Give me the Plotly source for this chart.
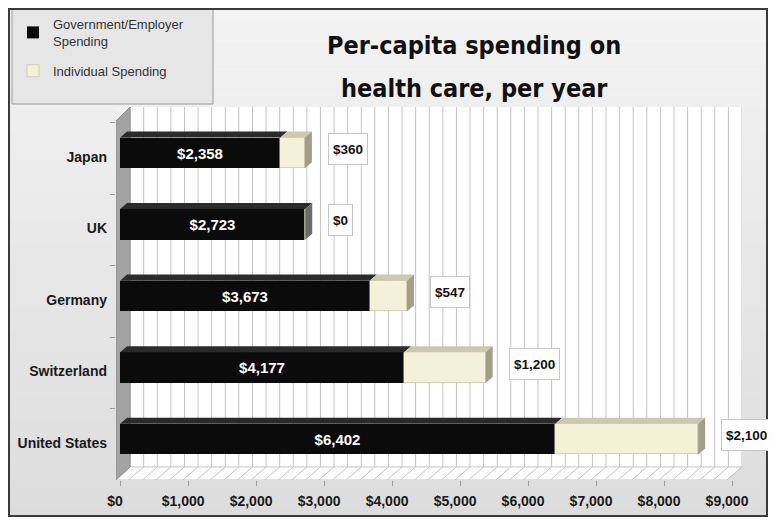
import plotly.graph_objects as go

# ---------------- data ----------------
countries = ["Japan", "UK", "Germany", "Switzerland", "United States"]
gov_spending = [2358, 2723, 3673, 4177, 6402]
ind_spending = [360, 0, 547, 1200, 2100]
x_tick_vals = [0, 1000, 2000, 3000, 4000, 5000, 6000, 7000, 8000, 9000]
x_tick_text = ["$0", "$1,000", "$2,000", "$3,000", "$4,000", "$5,000",
               "$6,000", "$7,000", "$8,000", "$9,000"]
title_lines = ["Per-capita spending on", "health care, per year"]
legend_names = ["Government/Employer<br>Spending", "Individual Spending"]

# ---------------- geometry / style ----------------
OFF = 8                      # page body margin the figure sits in
W_PX, H_PX = 776 - 2 * OFF, 525 - 2 * OFF
# plot area in page pixels: x 116..742, y 107..480
M_L = 116 - OFF
M_T = 107 - OFF
M_R = W_PX - (742 - OFF)
M_B = H_PX - (480 - OFF)
X_RANGE = [-60, 9147]
Y_RANGE = [4.573, -0.643]
BAR_W = 0.43
DDX = 103          # 3-D depth in $ units (~7px)
DDY = 0.084        # 3-D depth in category units (~6px)
BACK = 147         # back-plane offset ($)
FRONT = -74        # front-plane offset ($)
FLOOR_BACK = 4.39
FLOOR_FRONT = Y_RANGE[0]

FONT = "Liberation Sans, Arial, sans-serif"
NARROW = "DejaVu Sans Condensed, Liberation Sans Narrow, sans-serif"

pw = W_PX - M_L - M_R
ph = H_PX - M_T - M_B


def px_x(px):
    """page pixel x -> paper x"""
    return (px - OFF - M_L) / pw


def px_y(py):
    """page pixel y -> paper y"""
    return (H_PX - M_B - (py - OFF)) / ph


ypos = list(range(len(countries)))

fig = go.Figure()
fig.add_trace(go.Bar(
    y=ypos, x=gov_spending, orientation="h", width=BAR_W,
    name=legend_names[0], legendgroup="g1",
    marker=dict(color="#0b0b0b", line=dict(width=0)),
    text=[f"<b>${v:,}</b>" for v in gov_spending],
    textposition="inside", insidetextanchor="middle",
    textfont=dict(color="white", size=15, family=FONT),
    hoverinfo="skip",
))
fig.add_trace(go.Bar(
    y=ypos, x=ind_spending, orientation="h", width=BAR_W,
    name=legend_names[1], legendgroup="g2",
    marker=dict(color="#f4f1d9", line=dict(color="#bdb9a2", width=0.6)),
    hoverinfo="skip",
))

shapes = []

# background gradient bands (paper)
n_bands = 24
for k in range(n_bands):
    t = k / (n_bands - 1)
    c = int(220 + (243 - 220) * t)
    shapes.append(dict(type="rect", xref="paper", yref="paper", layer="below",
                       x0=px_x(0), x1=px_x(800),
                       y0=px_y(530 - 530 * k / n_bands),
                       y1=px_y(530 - 530 * (k + 1) / n_bands),
                       fillcolor=f"rgb({c},{c},{c})", line=dict(width=0)))

# legend box
shapes.append(dict(type="rect", xref="paper", yref="paper", layer="below",
                   x0=px_x(12), x1=px_x(213), y0=px_y(104), y1=px_y(9),
                   fillcolor="#e6e6e6", line=dict(color="#9a9a9a", width=1)))

# white back wall of the grid
shapes.append(dict(type="rect", xref="x", yref="y", layer="below",
                   x0=BACK, x1=9000 + BACK, y0=Y_RANGE[1], y1=FLOOR_BACK,
                   fillcolor="#ffffff", line=dict(width=0)))
# vertical gridlines (back plane)
for v in range(0, 9001, 200):
    shapes.append(dict(type="line", xref="x", yref="y", layer="below",
                       x0=v + BACK, x1=v + BACK, y0=Y_RANGE[1], y1=FLOOR_BACK,
                       line=dict(color="#c9c4c4", width=1)))
# floor
shapes.append(dict(type="path", xref="x", yref="y", layer="below",
                   path=f"M {FRONT},{FLOOR_FRONT} L {9000 + FRONT},{FLOOR_FRONT} "
                        f"L {9000 + BACK},{FLOOR_BACK} L {BACK},{FLOOR_BACK} Z",
                   fillcolor="#fdfdfd", line=dict(color="#c9c4c4", width=1)))
for v in range(0, 9001, 200):
    shapes.append(dict(type="line", xref="x", yref="y", layer="below",
                       x0=v + FRONT, x1=v + BACK, y0=FLOOR_FRONT, y1=FLOOR_BACK,
                       line=dict(color="#c9c4c4", width=1)))
# left wall
wall_top_front = Y_RANGE[1] + 14 / 71.5
shapes.append(dict(type="path", xref="x", yref="y", layer="below",
                   path=f"M {X_RANGE[0]},{FLOOR_FRONT} L {BACK},{FLOOR_BACK} "
                        f"L {BACK},{Y_RANGE[1]} L {X_RANGE[0]},{wall_top_front} Z",
                   fillcolor="#a3a3a3", line=dict(color="#8c8c8c", width=1)))

# 3-D top and side faces of bars
for i, (g, d) in enumerate(zip(gov_spending, ind_spending)):
    yt = i - BAR_W / 2
    yb = i + BAR_W / 2
    segs = [(0, g, "#2b2b2b")]
    if d > 0:
        segs.append((g, g + d, "#cdc9ae"))
    for x0, x1, col in segs:
        shapes.append(dict(type="path", xref="x", yref="y", layer="above",
                           path=f"M {x0},{yt} L {x0 + DDX},{yt - DDY} "
                                f"L {x1 + DDX},{yt - DDY} L {x1},{yt} Z",
                           fillcolor=col, line=dict(width=0)))
    xe = g + d
    side_col = "#a29e88" if d > 0 else "#6a6a6a"
    shapes.append(dict(type="path", xref="x", yref="y", layer="above",
                       path=f"M {xe},{yt} L {xe + DDX},{yt - DDY} "
                            f"L {xe + DDX},{yb - DDY} L {xe},{yb} Z",
                       fillcolor=side_col, line=dict(width=0)))

# outer frame
shapes.append(dict(type="rect", xref="paper", yref="paper", layer="above",
                   x0=px_x(9), x1=px_x(767), y0=px_y(516), y1=px_y(9),
                   fillcolor="rgba(0,0,0,0)", line=dict(color="#3a3a3a", width=2)))

annotations = []
for i, (g, d) in enumerate(zip(gov_spending, ind_spending)):
    annotations.append(dict(
        x=g + d, y=i, xref="x", yref="y", xanchor="left", yanchor="middle",
        xshift=23, yshift=4, showarrow=False, height=22, valign="middle",
        text=f"<b>${d:,}</b>",
        font=dict(size=13.5, color="#111111", family=FONT),
        bgcolor="white", bordercolor="#c6c6c6", borderwidth=1, borderpad=4,
    ))
for j, (line, py) in enumerate(zip(title_lines, [46, 89])):
    annotations.append(dict(
        x=px_x(474), y=px_y(py), xref="paper", yref="paper",
        xanchor="center", yanchor="middle", showarrow=False,
        text=f"<b>{line}</b>",
        font=dict(size=25, color="#111111", family=NARROW),
    ))

fig.update_layout(
    width=W_PX, height=H_PX,
    margin=dict(l=M_L, r=M_R, t=M_T, b=M_B, pad=0, autoexpand=False),
    barmode="stack", bargap=0,
    paper_bgcolor="#e4e4e4", plot_bgcolor="#ffffff",
    showlegend=True,
    legend=dict(x=px_x(13), y=px_y(9), xanchor="left", yanchor="top",
                xref="paper", yref="paper", traceorder="grouped",
                bgcolor="rgba(0,0,0,0)", borderwidth=0,
                font=dict(size=13, color="#333333", family=FONT),
                itemwidth=30, tracegroupgap=10),
    xaxis=dict(range=X_RANGE, tickvals=x_tick_vals, ticktext=x_tick_text,
               showgrid=False, zeroline=False, showline=False, automargin=False,
               ticks="outside", ticklen=5, tickcolor="#9a9a9a",
               ticklabelshift=-5, ticklabelstandoff=3,
               tickfont=dict(size=14, color="#1a1a1a", family=FONT, weight="bold")),
    yaxis=dict(range=Y_RANGE, tickvals=ypos, ticktext=countries,
               showgrid=False, zeroline=False, showline=False, ticks="",
               automargin=False, ticklabelstandoff=8, ticklabelshift=-4,
               minor=dict(tickvals=[i - 0.42 for i in range(len(countries) + 1)],
                          ticks="outside", ticklen=5, tickcolor="#9a9a9a",
                          showgrid=False),
               tickfont=dict(size=14, color="#1a1a1a", family=FONT, weight="bold")),
    shapes=shapes, annotations=annotations,
)

fig.write_html("out.html")
